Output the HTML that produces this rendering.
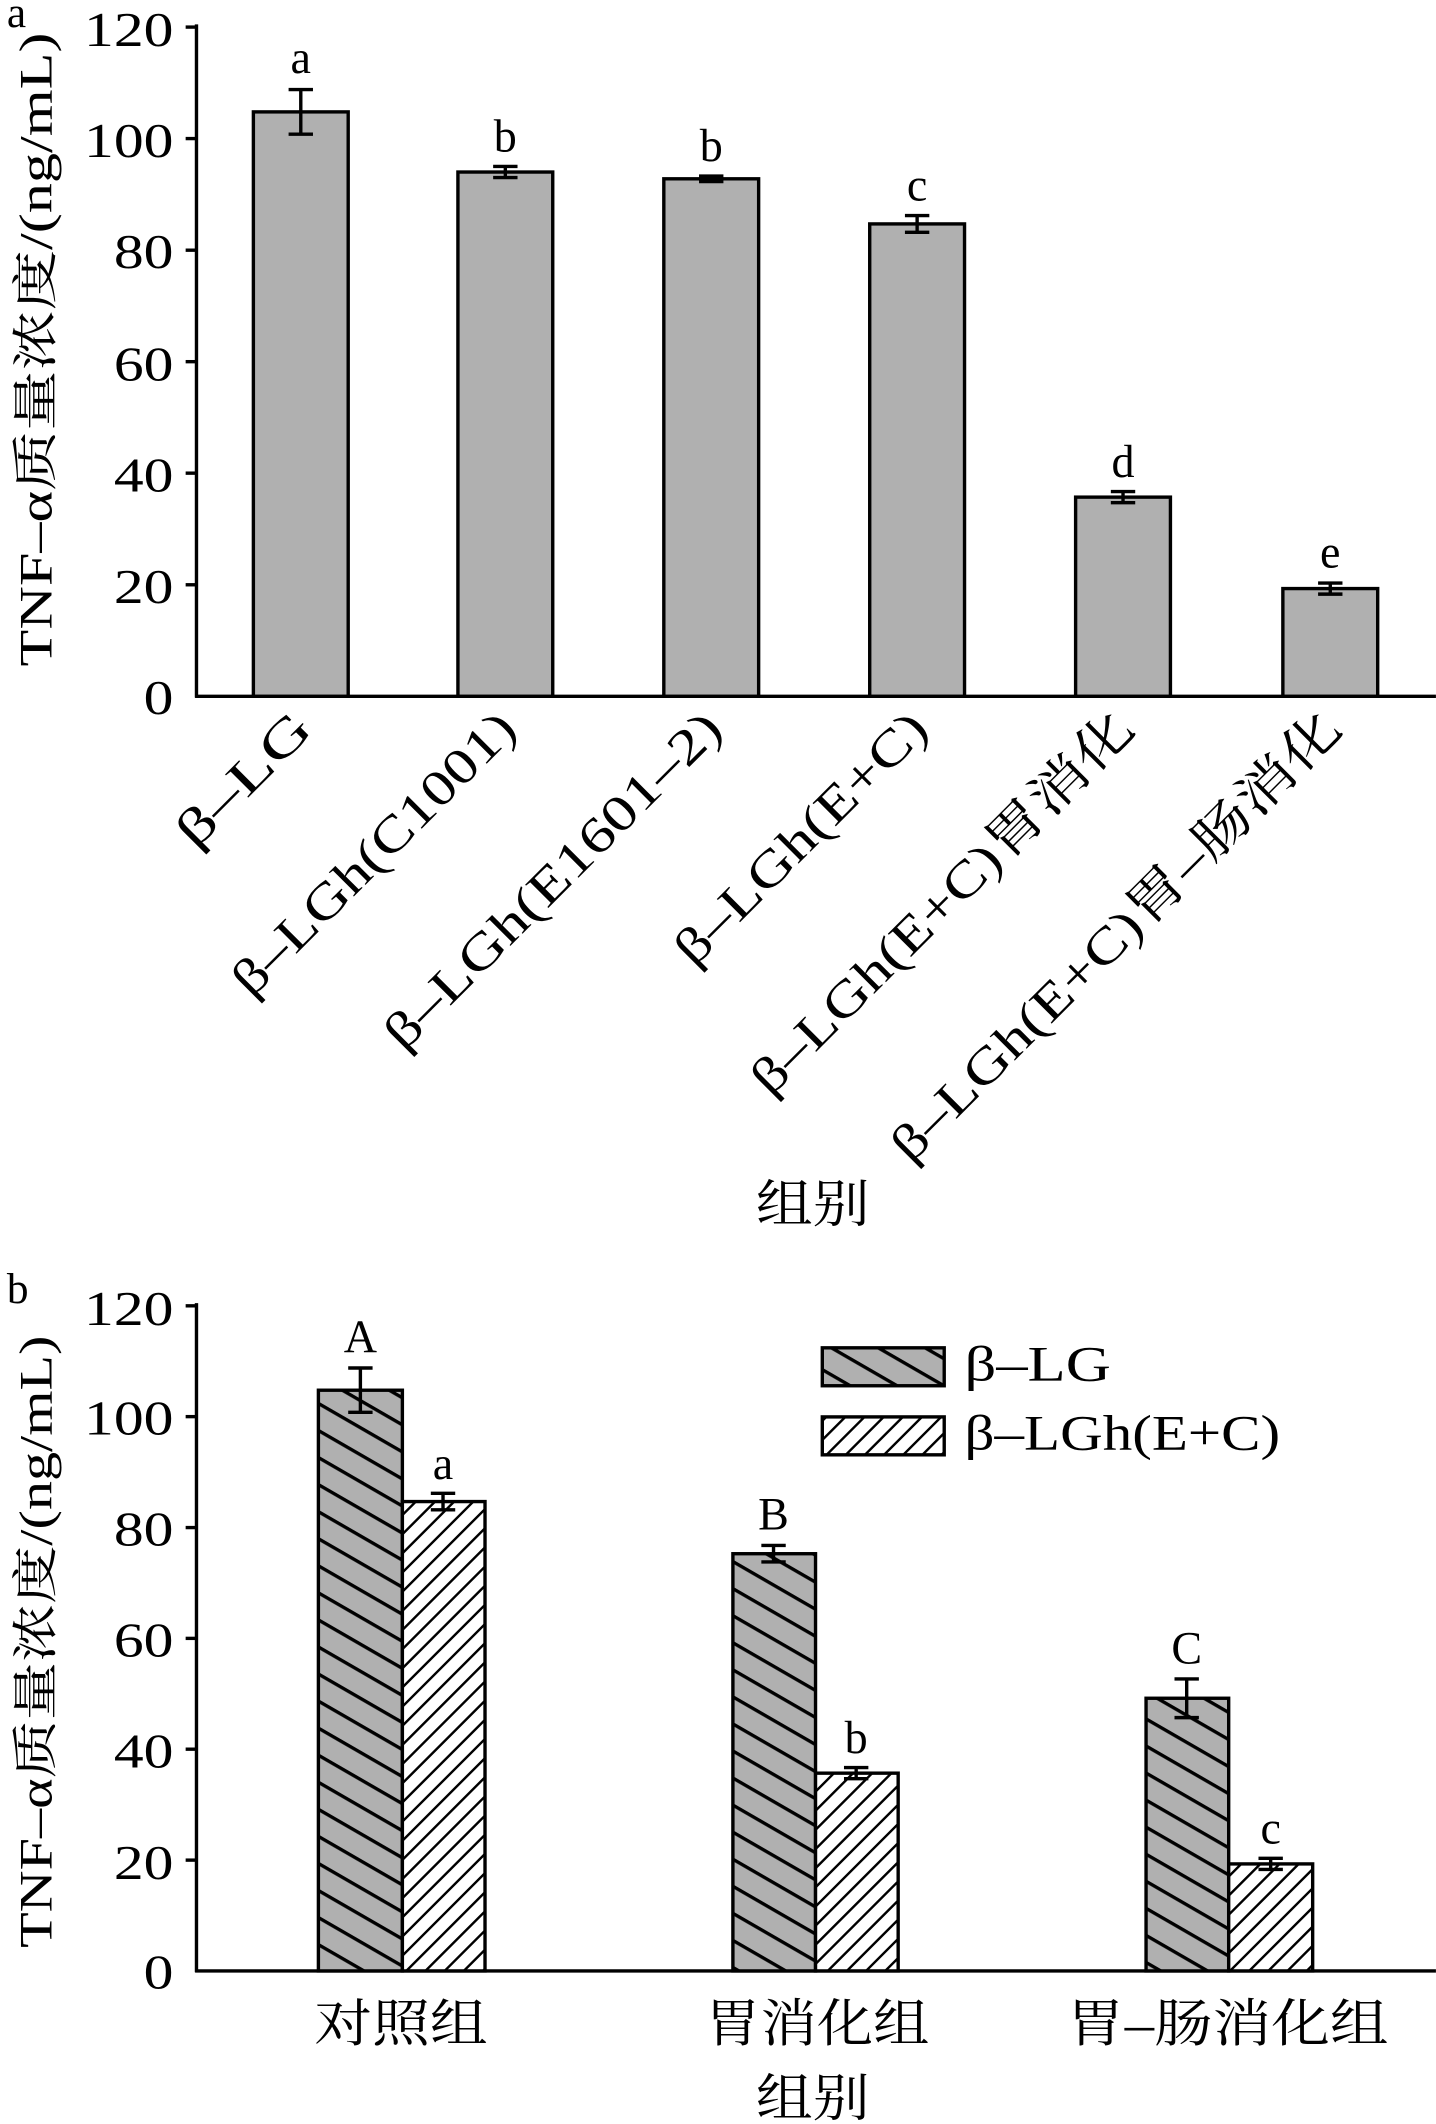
<!DOCTYPE html>
<html><head><meta charset="utf-8"><style>html,body{margin:0;padding:0;background:#fff}svg{display:block}</style></head>
<body>
<svg width="1436" height="2124" viewBox="0 0 1060 1568" xmlns="http://www.w3.org/2000/svg" font-family="'Liberation Serif','Noto Serif CJK SC',serif" font-size="36" fill="#000">
<defs>
<pattern id="pg" patternUnits="userSpaceOnUse" width="30" height="17.3" patternTransform="rotate(30)">
<rect width="30" height="17.3" fill="#b0b0b0"/><line x1="0" y1="0" x2="30" y2="0" stroke="#000" stroke-width="5"/>
</pattern>
<pattern id="pw" patternUnits="userSpaceOnUse" width="20" height="10" patternTransform="rotate(-45)">
<rect width="20" height="10" fill="#fff"/><line x1="0" y1="0" x2="20" y2="0" stroke="#000" stroke-width="3.5"/>
</pattern>
</defs>
<g stroke="#000" stroke-width="2.5" fill="none">
<line x1="145" y1="18" x2="145" y2="515"/><line x1="144" y1="514" x2="1060" y2="514"/>
<line x1="137" y1="20" x2="145" y2="20"/><line x1="137" y1="102.3" x2="145" y2="102.3"/><line x1="137" y1="184.7" x2="145" y2="184.7"/><line x1="137" y1="267" x2="145" y2="267"/><line x1="137" y1="349.3" x2="145" y2="349.3"/><line x1="137" y1="431.7" x2="145" y2="431.7"/>
<line x1="145" y1="962" x2="145" y2="1456"/><line x1="144" y1="1455" x2="1060" y2="1455"/>
<line x1="137" y1="964" x2="145" y2="964"/><line x1="137" y1="1045.8" x2="145" y2="1045.8"/><line x1="137" y1="1127.7" x2="145" y2="1127.7"/><line x1="137" y1="1209.5" x2="145" y2="1209.5"/><line x1="137" y1="1291.3" x2="145" y2="1291.3"/><line x1="137" y1="1373.2" x2="145" y2="1373.2"/>
</g>
<g font-size="36" text-anchor="end">
<text x="128" y="34" textLength="66" lengthAdjust="spacingAndGlyphs">120</text><text x="128" y="116" textLength="66" lengthAdjust="spacingAndGlyphs">100</text><text x="128" y="198" textLength="44" lengthAdjust="spacingAndGlyphs">80</text><text x="128" y="281" textLength="44" lengthAdjust="spacingAndGlyphs">60</text><text x="128" y="363" textLength="44" lengthAdjust="spacingAndGlyphs">40</text><text x="128" y="445" textLength="44" lengthAdjust="spacingAndGlyphs">20</text><text x="128" y="527" textLength="22" lengthAdjust="spacingAndGlyphs">0</text>
<text x="128" y="978" textLength="66" lengthAdjust="spacingAndGlyphs">120</text><text x="128" y="1059" textLength="66" lengthAdjust="spacingAndGlyphs">100</text><text x="128" y="1141" textLength="44" lengthAdjust="spacingAndGlyphs">80</text><text x="128" y="1223" textLength="44" lengthAdjust="spacingAndGlyphs">60</text><text x="128" y="1305" textLength="44" lengthAdjust="spacingAndGlyphs">40</text><text x="128" y="1387" textLength="44" lengthAdjust="spacingAndGlyphs">20</text><text x="128" y="1468" textLength="22" lengthAdjust="spacingAndGlyphs">0</text>
</g>
<text x="5" y="20" font-size="32">a</text>
<text x="5" y="962" font-size="32">b</text>
<text transform="translate(38,492) rotate(-90)" font-size="34" textLength="468" lengthAdjust="spacingAndGlyphs">TNF–α质量浓度/(ng/mL)</text>
<text transform="translate(38,1438) rotate(-90)" font-size="34" textLength="452" lengthAdjust="spacingAndGlyphs">TNF–α质量浓度/(ng/mL)</text>
<g fill="#b0b0b0" stroke="#000" stroke-width="2.5">
<rect x="187" y="82.6" width="70" height="431.4"/>
<rect x="338" y="127" width="70" height="387"/>
<rect x="490" y="132" width="70" height="382"/>
<rect x="642" y="165.3" width="70" height="348.7"/>
<rect x="794" y="367" width="70" height="147"/>
<rect x="947" y="434.5" width="70" height="79.5"/>
</g>
<g stroke="#000" stroke-width="2.5">
<path d="M222 66.1V99.1M213 66.1H231M213 99.1H231"/>
<path d="M373 122.9V131.1M364 122.9H382M364 131.1H382"/>
<path d="M525 130V134M516 130H534M516 134H534"/>
<path d="M677 159.1V171.5M668 159.1H686M668 171.5H686"/>
<path d="M829 362.9V371.1M820 362.9H838M820 371.1H838"/>
<path d="M982 430.4V438.6M973 430.4H991M973 438.6H991"/>
</g>
<g text-anchor="middle" font-size="34">
<text x="222" y="54">a</text><text x="373" y="112">b</text><text x="525" y="119">b</text><text x="677" y="148">c</text><text x="829" y="352">d</text><text x="982" y="419">e</text>
</g>
<g text-anchor="end" font-size="37">
<text transform="translate(232,540) rotate(-45)" textLength="124" lengthAdjust="spacingAndGlyphs">β–LG</text>
<text transform="translate(383,540) rotate(-45)" textLength="279" lengthAdjust="spacingAndGlyphs">β–LGh(C1001)</text>
<text transform="translate(535,540) rotate(-45)" textLength="335" lengthAdjust="spacingAndGlyphs">β–LGh(E1601–2)</text>
<text transform="translate(687,540) rotate(-45)" textLength="247" lengthAdjust="spacingAndGlyphs">β–LGh(E+C)</text>
<text transform="translate(839,540) rotate(-45)" textLength="382" lengthAdjust="spacingAndGlyphs">β–LGh(E+C)胃消化</text>
<text transform="translate(992,540) rotate(-45)" textLength="452" lengthAdjust="spacingAndGlyphs">β–LGh(E+C)胃–肠消化</text>
</g>
<text x="558" y="902" font-size="38" textLength="84" lengthAdjust="spacingAndGlyphs">组别</text>
<g stroke="#000" stroke-width="2.5">
<rect x="235" y="1026.3" width="62" height="428.7" fill="url(#pg)"/>
<rect x="297" y="1108.5" width="61" height="346.5" fill="url(#pw)"/>
<rect x="541" y="1147" width="61" height="308" fill="url(#pg)"/>
<rect x="602" y="1309" width="61" height="146" fill="url(#pw)"/>
<rect x="846" y="1253.7" width="61" height="201.3" fill="url(#pg)"/>
<rect x="907" y="1376" width="62" height="79" fill="url(#pw)"/>
<rect x="607" y="995" width="90" height="28" fill="url(#pg)"/>
<rect x="607" y="1046" width="90" height="28" fill="url(#pw)"/>
<path d="M266 1009.9V1042.6M257 1009.9H275M257 1042.6H275"/>
<path d="M327 1102.4V1114.6M318 1102.4H336M318 1114.6H336"/>
<path d="M571 1140.9V1153.1M562 1140.9H580M562 1153.1H580"/>
<path d="M632 1304.9V1313.1M623 1304.9H641M623 1313.1H641"/>
<path d="M876 1239.4V1268M867 1239.4H885M867 1268H885"/>
<path d="M938 1371.9V1380.1M929 1371.9H947M929 1380.1H947"/>
</g>
<g text-anchor="middle" font-size="34">
<text x="266" y="998">A</text><text x="327" y="1092">a</text><text x="571" y="1129">B</text><text x="632" y="1294">b</text><text x="876" y="1228">C</text><text x="938" y="1361">c</text>
</g>
<text x="712" y="1019" font-size="37" textLength="108" lengthAdjust="spacingAndGlyphs">β–LG</text>
<text x="712" y="1070" font-size="37" textLength="233" lengthAdjust="spacingAndGlyphs">β–LGh(E+C)</text>
<g font-size="38">
<text x="232" y="1507" textLength="128" lengthAdjust="spacingAndGlyphs">对照组</text><text x="520" y="1507" textLength="166" lengthAdjust="spacingAndGlyphs">胃消化组</text><text x="787" y="1507" textLength="238" lengthAdjust="spacingAndGlyphs">胃–肠消化组</text>
<text x="558" y="1562" textLength="84" lengthAdjust="spacingAndGlyphs">组别</text>
</g>
</svg>
</body></html>
